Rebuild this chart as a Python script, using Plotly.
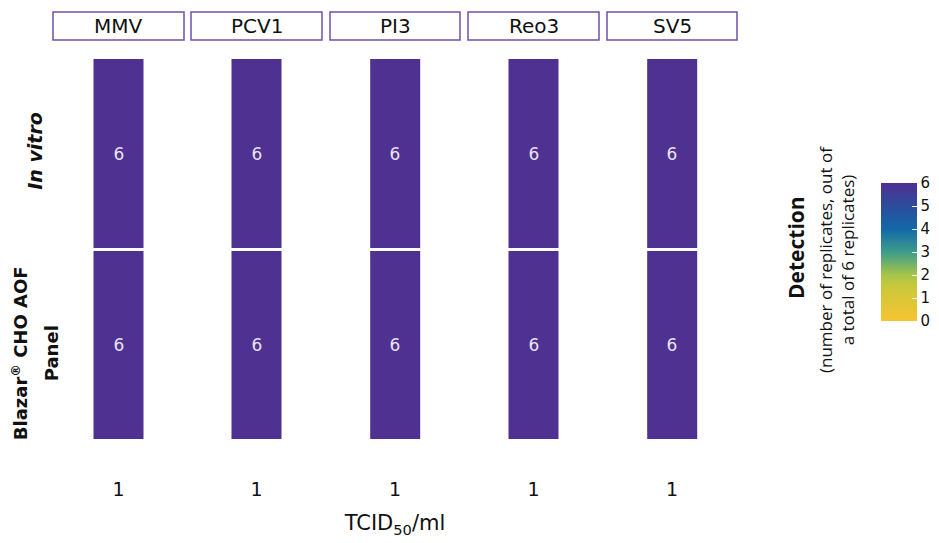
import plotly.graph_objects as go
from plotly.subplots import make_subplots

viruses = ["MMV", "PCV1", "PI3", "Reo3", "SV5"]
methods = ["Blazar® CHO AOF Panel", "In vitro"]          # bottom -> top
method_labels = ["<b>Blazar<sup>®</sup> CHO AOF<br>Panel</b>", "<b><i>In vitro</i></b>"]
concentrations = ["1"]
in_vitro_detect = [6, 6, 6, 6, 6]
blazar_detect = [6, 6, 6, 6, 6]
cbar_ticks = [0, 1, 2, 3, 4, 5, 6]

colorscale = [
    [0.0, "#F6C431"],
    [0.25, "#C9C83B"],
    [0.3333, "#A6C549"],
    [0.5, "#3D9C8A"],
    [0.6667, "#1368A9"],
    [0.8333, "#2B4C9B"],
    [1.0, "#4F3192"],
]

OFF = 8  # page body margin offset
W, H = 939, 543
L, R, T, B = 53 - OFF, 737 - OFF, 58 - OFF, 441 - OFF
pw, ph = R - L, B - T
panels_px = [(53, 184), (191, 322), (330, 460), (468, 599), (607, 737)]

def px2x(p):
    return (p - OFF - L) / pw

def py2y(p):
    return (B - (p - OFF)) / ph

fig = make_subplots(rows=1, cols=5, shared_yaxes=True, horizontal_spacing=0.01)

for i, v in enumerate(viruses):
    z = [[blazar_detect[i]], [in_vitro_detect[i]]]
    fig.add_trace(
        go.Heatmap(
            x=concentrations,
            y=methods,
            z=z,
            zmin=0,
            zmax=6,
            colorscale=colorscale,
            ygap=3,
            text=[[str(blazar_detect[i])], [str(in_vitro_detect[i])]],
            texttemplate="%{text}",
            textfont=dict(family="DejaVu Sans", size=17, color="#E8E4F2"),
            showscale=(i == 0),
            colorbar=dict(
                x=px2x(881), xanchor="left", xref="paper", xpad=0,
                y=py2y(252), yanchor="middle", ypad=0,
                len=138 / ph, lenmode="fraction",
                thickness=36, thicknessmode="pixels",
                outlinewidth=0,
                tickvals=cbar_ticks,
                ticks="inside", tickcolor="white", ticklen=5, tickwidth=1,
                tickfont=dict(family="DejaVu Sans", size=15, color="#111"),
            ),
            hoverinfo="skip",
        ),
        row=1, col=i + 1,
    )

for i in range(5):
    a0, a1 = panels_px[i]
    xa = "xaxis" if i == 0 else f"xaxis{i+1}"
    fig.layout[xa].update(
        domain=[px2x(a0), px2x(a1)],
        range=[-1.31, 1.31],
        showgrid=False, zeroline=False, showline=False,
        ticks="", ticklabelstandoff=35,
        tickfont=dict(family="DejaVu Sans", size=19, color="#111"),
    )
    ya = "yaxis" if i == 0 else f"yaxis{i+1}"
    fig.layout[ya].update(
        range=[-0.5, 1.5], showgrid=False, zeroline=False,
        showticklabels=False, ticks="",
    )
    # strip
    fig.add_shape(
        type="rect", xref="paper", yref="paper",
        x0=px2x(a0), x1=px2x(a1), y0=py2y(40), y1=py2y(12),
        line=dict(color="#6E52AE", width=1.5), fillcolor="white",
    )
    fig.add_annotation(
        text=viruses[i], xref="paper", yref="paper",
        x=px2x((a0 + a1) / 2), y=py2y(26), showarrow=False,
        font=dict(family="DejaVu Sans", size=20, color="#111"),
        xanchor="center", yanchor="middle",
    )

fig.layout["xaxis3"].update(
    title=dict(text="TCID<sub>50</sub>/ml", standoff=16,
               font=dict(family="DejaVu Sans", size=21, color="#111"))
)

# row labels
fig.add_annotation(
    text=method_labels[1], xref="paper", yref="y", x=px2x(35), y=methods[1],
    textangle=-90, showarrow=False, xanchor="center", yanchor="middle",
    yshift=3,
    font=dict(family="DejaVu Sans", size=19, color="#111"),
)
blazar_lines = method_labels[0].replace("<b>", "").replace("</b>", "").split("<br>")
for line, xp in zip(blazar_lines, [20, 51]):
    fig.add_annotation(
        text=f"<b>{line}</b>", xref="paper", yref="y", x=px2x(xp), y=methods[0],
        textangle=-90, showarrow=False, xanchor="center", yanchor="middle",
        yshift=-8,
        font=dict(family="DejaVu Sans", size=18, color="#111"),
    )

# colorbar title
fig.add_annotation(
    text="<b>Detection</b>",
    xref="paper", yref="paper", x=px2x(796), y=py2y(248),
    textangle=-90, showarrow=False, xanchor="center", yanchor="middle",
    font=dict(family="Open Sans", size=21, color="#111"),
)
fig.add_annotation(
    text="(number of replicates, out of<br>a total of 6 replicates)",
    xref="paper", yref="paper", x=px2x(836), y=py2y(259),
    textangle=-90, showarrow=False, xanchor="center", yanchor="middle",
    font=dict(family="Open Sans", size=17, color="#111"),
)

fig.update_layout(
    width=W, height=H,
    margin=dict(l=L, r=W - R, t=T, b=H - B, autoexpand=False),
    paper_bgcolor="white", plot_bgcolor="white",
    showlegend=False,
)

fig.write_html("out.html")
